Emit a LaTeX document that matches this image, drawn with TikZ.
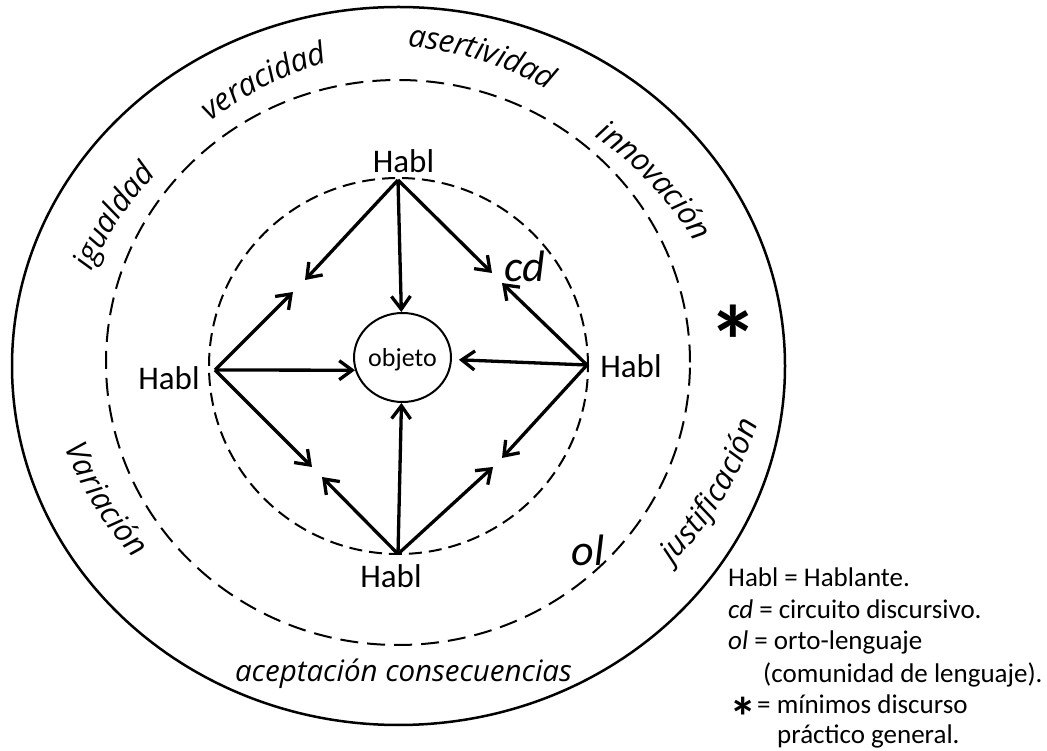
\documentclass[tikz,border=0pt]{standalone}
\usepackage{fontspec}
\setmainfont{Carlito}
\newfontfamily\cfont{Open Sans}
\usetikzlibrary{arrows.meta,decorations.text,shapes.geometric,calc}
\begin{document}
\begin{tikzpicture}[x=1pt,y=1pt,
  arr/.style={line width=3.3pt,-{Straight Barb[length=13pt,width=19pt]}},
  habl/.style={font=\fontsize{33}{36}\selectfont, inner sep=0pt},
  curved/.style={decorate, decoration={text along path, text align=center, raise=-9pt,
     text={|\cfont\itshape\fontsize{31}{34}\selectfont|#1}}},
  leg/.style={font=\fontsize{27}{30}\selectfont, anchor=base west, inner sep=0pt}]
\useasboundingbox (0,0) rectangle (1047,750);
% rings
\draw[line width=2.5pt] (398.5,384) ellipse [x radius=386.5, y radius=359];
\draw[line width=2pt, dash pattern=on 18pt off 9pt] (398,387.5) ellipse [x radius=292, y radius=282.5];
\draw[line width=2pt, dash pattern=on 13pt off 7pt] (398.5,384) ellipse [x radius=189.5, y radius=188];
% object
\node[draw, ellipse, line width=2pt, minimum width=95pt, minimum height=89pt, inner sep=0pt,
      font=\fontsize{26}{30}\selectfont, text depth=0pt] (obj) at (402.5,392.5) {objeto};
% speakers
\node[habl] (hT) at (403.5,589) {Habl};
\node[habl] (hL) at (169,372) {Habl};
\node[habl] (hR) at (631,384) {Habl};
\node[habl] (hB) at (391,174) {Habl};
\coordinate (oT) at (398,570);
\coordinate (oL) at (215,380);
\coordinate (oR) at (587,385);
\coordinate (oB) at (398,196);
% free arrow ends
\coordinate (tTL) at (305,470);
\coordinate (tTR) at (492,477);
\coordinate (tLU) at (293,458);
\coordinate (tLD) at (312,283);
\coordinate (tRU) at (502,467);
\coordinate (tRD) at (502,292);
\coordinate (tBL) at (322,273);
\coordinate (tBR) at (493,283);
% arrows
\draw[arr] (oT) -- (obj);
\draw[arr] (oT) -- (tTL);
\draw[arr] (oT) -- (tTR);
\draw[arr] (oL) -- (obj.195);
\draw[arr] (oL) -- (tLU);
\draw[arr] (oL) -- (tLD);
\draw[arr, shorten >=7pt] (oR) -- (obj);
\draw[arr] (oR) -- (tRU);
\draw[arr] (oR) -- (tRD);
\draw[arr] (oB) -- (obj);
\draw[arr] (oB) -- (tBL);
\draw[arr] (oB) -- (tBR);
% labels inside
\node[font=\fontsize{44}{46}\selectfont\itshape, inner sep=0pt] (cd) at (525,484) {cd};
\node[font=\fontsize{44}{46}\selectfont\itshape, inner sep=0pt] (ol) at (588,200) {ol};
\node[font=\fontsize{100}{100}\selectfont\bfseries, inner sep=0pt, anchor=base] (ast) at (733,373) {*};
% curved texts (top: clockwise arcs, bottom: counter-clockwise arcs)
\path[curved=igualdad] ($(112,535)+(326.7:340)+(186.7:340)$) arc[start angle=186.7, end angle=106.7, radius=340];
\path[curved=veracidad] ($(262,672)+(297.1:340)+(157.1:340)$) arc[start angle=157.1, end angle=77.1, radius=340];
\path[curved=asertividad] ($(483,698)+(253:340)+(113:340)$) arc[start angle=113, end angle=33, radius=340];
\path[curved=innovación] ($(657,572)+(223.3:340)+(83.3:340)$) arc[start angle=83.3, end angle=3.3, radius=340];
\path[curved=justificación] ($(716,256)+(148.7:340)+(288.7:340)$) arc[start angle=288.7, end angle=368.7, radius=340];
\path[curved=Variación] ($(102,248)+(32:340)+(172:340)$) arc[start angle=172, end angle=252, radius=340];
\node[font=\cfont\itshape\fontsize{29.5}{32}\selectfont, anchor=base, inner sep=0pt] (acep) at (403.5,68) {aceptación consecuencias};
% legend
\node[leg] (l1) at (728,163) {Habl = Hablante.};
\node[leg] (l2) at (728,131) {\textit{cd} = circuito discursivo.};
\node[leg] (l3) at (728,100) {\textit{ol} = orto-lenguaje};
\node[leg] (l4) at (763,67) {(comunidad de lenguaje).};
\node[leg, font=\fontsize{55}{55}\selectfont\bfseries] (l5a) at (729,14) {*};
\node[leg] (l5) at (757,37) {= mínimos discurso};
\node[leg] (l6) at (777,7) {práctico general.};
\end{tikzpicture}
\end{document}
